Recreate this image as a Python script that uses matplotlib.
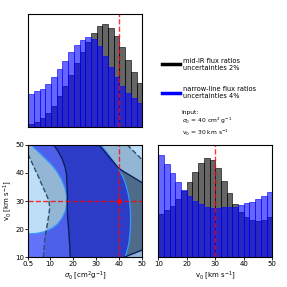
import numpy as np
import matplotlib
matplotlib.use('Agg')
import matplotlib.pyplot as plt
from matplotlib.lines import Line2D

# histogram heights (fraction of panel height), 20 bins each
sig_edges = np.linspace(0.5, 50, 21)
sig_midir = [0.029, 0.047, 0.082, 0.13, 0.188, 0.274, 0.364, 0.464, 0.57, 0.664,
             0.756, 0.83, 0.894, 0.912, 0.876, 0.806, 0.706, 0.594, 0.491, 0.394]
sig_narrow = [0.294, 0.32, 0.337, 0.383, 0.441, 0.512, 0.583, 0.665, 0.729, 0.77,
              0.794, 0.777, 0.718, 0.629, 0.53, 0.447, 0.365, 0.306, 0.256, 0.217]

v_edges = np.linspace(10, 50, 21)
v_midir = [0.384, 0.42, 0.455, 0.515, 0.585, 0.668, 0.76, 0.84, 0.881, 0.863,
           0.792, 0.68, 0.568, 0.473, 0.4, 0.36, 0.331, 0.325, 0.334, 0.355]
v_narrow = [0.91, 0.828, 0.745, 0.668, 0.60, 0.544, 0.5, 0.47, 0.449, 0.44,
            0.44, 0.444, 0.449, 0.449, 0.461, 0.479, 0.493, 0.515, 0.544, 0.582]

sig_true = 40
v_true = 30

# contour curves (sigma0, v0)
dash_left_x = [7.0, 7.3, 7.8, 8.6, 9.3, 9.8, 9.5, 8.1, 6.5, 4.9, 3.0, 1.2, 0.5]
dash_left_y = [10, 13, 17.3, 21, 24.5, 27.5, 30, 32.7, 35.6, 38.6, 42, 45.2, 46.4]
dash_tr_x = [43.5, 45.5, 47.8, 50]
dash_tr_y = [50, 48.3, 46.5, 44.6]

navy_left_x = [18.7, 18.5, 18.1, 17.6, 17.4, 17.5, 17.3, 17.1, 16.5, 15.2, 13.2, 11.5]
navy_left_y = [10, 14, 19, 24, 28, 32, 36, 39.5, 42, 45, 48, 50]
navy_tr_x = [31.1, 33.5, 36, 38.2, 39.8, 42.5, 46, 50]
navy_tr_y = [50, 47.8, 45.3, 43.2, 41.6, 40.2, 38.5, 36.5]
navy_br_x = [42.3, 44.5, 47, 50]
navy_br_y = [10, 10.8, 11.6, 12.6]

nl_left_x = [0.5, 2.5, 4.9, 8, 10.7, 13.2, 15.1, 16.6, 17.3, 17.1, 16.2, 14.8,
             12.9, 10.5, 7.8, 5.5, 3.4, 1.8]
nl_left_y = [18.3, 18.4, 18.6, 19.2, 20.3, 21.8, 23.9, 26.5, 29.2, 32.2, 35.1, 37.9,
             40.5, 43, 45.2, 47, 48.6, 50]
nl_right_x = [32, 34.2, 36.5, 38.5, 39.8, 41.5, 42.7, 43.8, 44.5, 44.9, 44.9, 44.7,
              44.2, 43.5, 42.6]
nl_right_y = [50, 47.8, 45.2, 43, 41.3, 38.8, 36.3, 33, 29.8, 26, 22.1, 18.5,
              15, 12.5, 10]

labels = ['mid-IR flux ratios\nuncertainties 2%',
          'narrow-line flux ratios\nuncertainties 4%']

fs = 5
fig = plt.figure(figsize=(2.87, 2.87), dpi=100)
ax1 = fig.add_axes([0.0986, 0.556, 0.397, 0.395])
ax2 = fig.add_axes([0.0986, 0.1035, 0.397, 0.392])
ax3 = fig.add_axes([0.5516, 0.1035, 0.397, 0.392])

# top left: sigma0 histograms
c = (sig_edges[:-1] + sig_edges[1:]) / 2
ax1.hist(c, bins=sig_edges, weights=sig_midir, color='k', alpha=0.6, edgecolor='k', lw=0.7)
ax1.hist(c, bins=sig_edges, weights=sig_narrow, color='b', alpha=0.6, edgecolor='b', lw=0.7)
ax1.axvline(sig_true, color='r', ls='--', lw=1, alpha=0.8)
ax1.set_xlim(0.5, 50)
ax1.set_ylim(0, 1)
ax1.set_xticks([])
ax1.set_yticks([])

# bottom right: v0 histograms
c = (v_edges[:-1] + v_edges[1:]) / 2
ax3.hist(c, bins=v_edges, weights=v_midir, color='k', alpha=0.6, edgecolor='k', lw=0.7)
ax3.hist(c, bins=v_edges, weights=v_narrow, color='b', alpha=0.6, edgecolor='b', lw=0.7)
ax3.axvline(v_true, color='r', ls='--', lw=1, alpha=0.8)
ax3.set_xlim(10, 50)
ax3.set_ylim(0, 1)
ax3.set_yticks([])
ax3.set_xticks([10, 20, 30, 40, 50])
ax3.set_xlabel('v$_0$ [km s$^{-1}$]', fontsize=fs, labelpad=1)

# bottom left: 2d confidence regions
ax2.set_facecolor('#bedef8')
ax2.fill(dash_left_x + [0.5] + dash_tr_x + [50], dash_left_y + [50] + dash_tr_y + [10],
         color='#93b6d4', lw=0)
ax2.fill(navy_left_x + navy_tr_x + navy_br_x[::-1], navy_left_y + navy_tr_y + navy_br_y[::-1],
         color='#4e6c8a', lw=0)
ax2.fill(nl_left_x + nl_right_x + [0.5], nl_left_y + nl_right_y + [10],
         color='#1010ff', alpha=0.52, lw=0)
ax2.plot(nl_left_x, nl_left_y, color='#3399ff', lw=0.9)
ax2.plot(nl_right_x, nl_right_y, color='#3399ff', lw=0.9)
for xs, ys in [(navy_left_x, navy_left_y), (navy_tr_x, navy_tr_y), (navy_br_x, navy_br_y)]:
    ax2.plot(xs, ys, color='#0a1f5c', lw=1)
for xs, ys in [(dash_left_x, dash_left_y), (dash_tr_x, dash_tr_y)]:
    ax2.plot(xs, ys, color='#2b4f6e', lw=1, ls='--')
ax2.axvline(sig_true, color='r', ls='--', lw=1, alpha=0.8)
ax2.axhline(v_true, color='r', ls='--', lw=1, alpha=0.8)
ax2.plot(sig_true, v_true, 'o', color='r', ms=2.5)
ax2.set_xlim(0.5, 50)
ax2.set_ylim(10, 50)
ax2.set_xticks([0.5, 10, 20, 30, 40, 50])
ax2.set_xticklabels(['0.5', '10', '20', '30', '40', '50'])
ax2.set_yticks([10, 20, 30, 40, 50])
ax2.set_xlabel('$\\sigma_0$ [cm$^2$g$^{-1}$]', fontsize=fs, labelpad=1)
ax2.set_ylabel('v$_0$ [km s$^{-1}$]', fontsize=fs, labelpad=1)

for ax in (ax1, ax2, ax3):
    ax.tick_params(labelsize=fs, length=2, width=0.6, pad=1)
    for s in ax.spines.values():
        s.set_linewidth(0.8)

handles = [Line2D([], [], color='k', lw=2.5), Line2D([], [], color='b', lw=2.5)]
fig.legend(handles, labels, loc='upper left', bbox_to_anchor=(0.554, 0.808), frameon=False,
           fontsize=4.8, handlelength=2.75, handletextpad=0.5, labelspacing=2.3,
           borderaxespad=0)
fig.text(0.633, 0.618, 'Input:\n$\\sigma_0$ = 40 cm$^2$ g$^{-1}$\nv$_0$ = 30 km s$^{-1}$',
         fontsize=4.3, va='top', ha='left')

fig.savefig('out.png', dpi=100)
